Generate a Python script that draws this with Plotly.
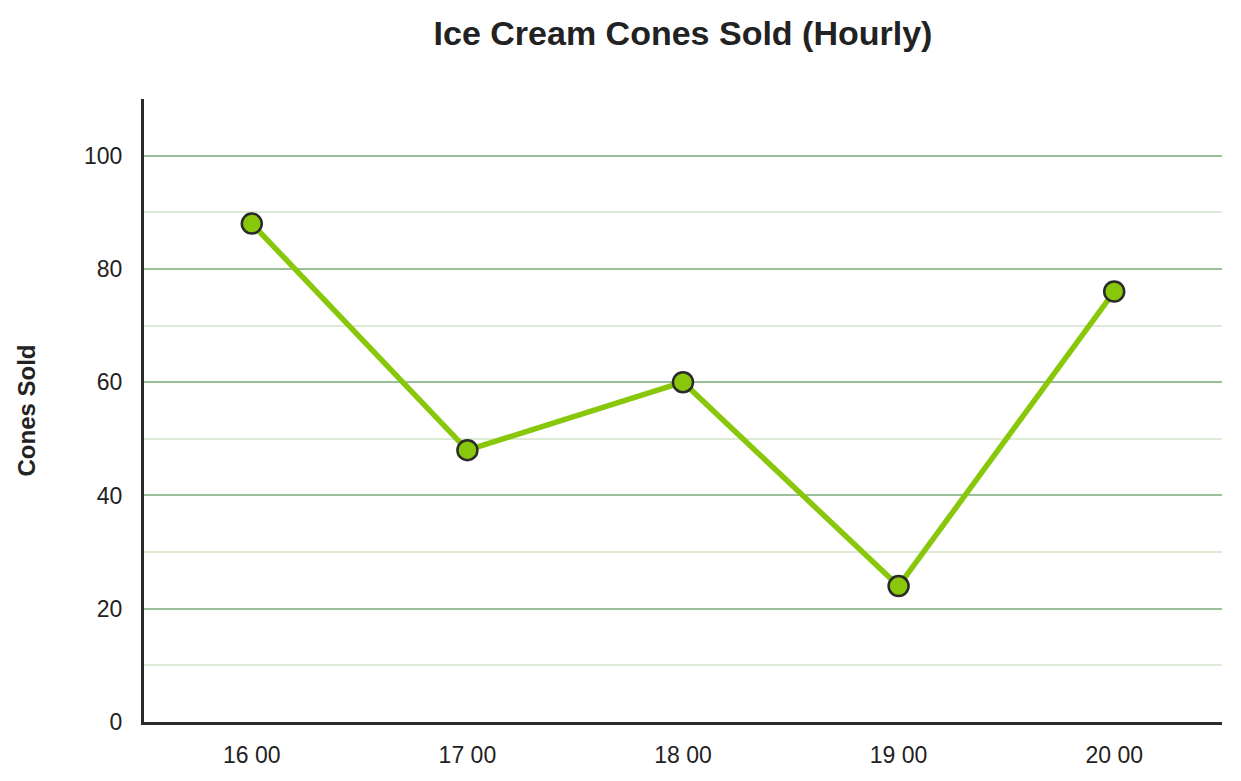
import plotly.graph_objects as go

# 每小時銷售資料
hours = ['16 00', '17 00', '18 00', '19 00', '20 00']
cones_sold = [88, 48, 60, 24, 76]

COLORS = {
    'line': '#88C70A',
    'marker_edge': '#2b2b2b',
    'axis': '#2b2b2b',
    'grid_major': '#9ABF9A',
    'grid_minor': '#DDEBD6',
    'text': '#222222',
}

# 頁面 body 有 8px 預設邊距，圖面尺寸扣掉
W, H = 1225, 765

fig = go.Figure()

fig.add_trace(go.Scatter(
    x=hours,
    y=cones_sold,
    mode='lines+markers',
    line=dict(color=COLORS['line'], width=5.5),
    marker=dict(
        size=20,
        color=COLORS['line'],
        line=dict(color=COLORS['marker_edge'], width=2.5)
    ),
    cliponaxis=False,
    showlegend=False
))

fig.update_layout(
    width=W,
    height=H,
    paper_bgcolor='white',
    plot_bgcolor='white',
    margin=dict(l=136, r=11, t=91, b=51),
    font=dict(family='Liberation Sans, Arial, sans-serif', color=COLORS['text'], size=23),
    title=dict(
        text='<b>Ice Cream Cones Sold (Hourly)</b>',
        font=dict(size=34, color=COLORS['text']),
        x=675 / W,
        xanchor='center',
        y=1 - 25 / H,
        yanchor='middle'
    ),
    xaxis=dict(
        type='category',
        range=[-0.5, 4.5],
        automargin=False,
        showgrid=False,
        showline=True,
        linecolor=COLORS['axis'],
        linewidth=3,
        ticks='',
        ticklabelstandoff=10,
        zeroline=False
    ),
    yaxis=dict(
        range=[0, 110],
        dtick=20,
        tick0=0,
        automargin=False,
        showgrid=True,
        gridcolor=COLORS['grid_major'],
        gridwidth=2,
        minor=dict(dtick=10, tick0=0, showgrid=True,
                   gridcolor=COLORS['grid_minor'], gridwidth=2),
        showline=True,
        linecolor=COLORS['axis'],
        linewidth=3,
        ticks='',
        ticklabelstandoff=14,
        zeroline=False,
        title=dict(
            text='<b>Cones Sold</b>',
            font=dict(size=24, color=COLORS['text']),
            standoff=42
        )
    )
)

fig.write_html('out.html')
